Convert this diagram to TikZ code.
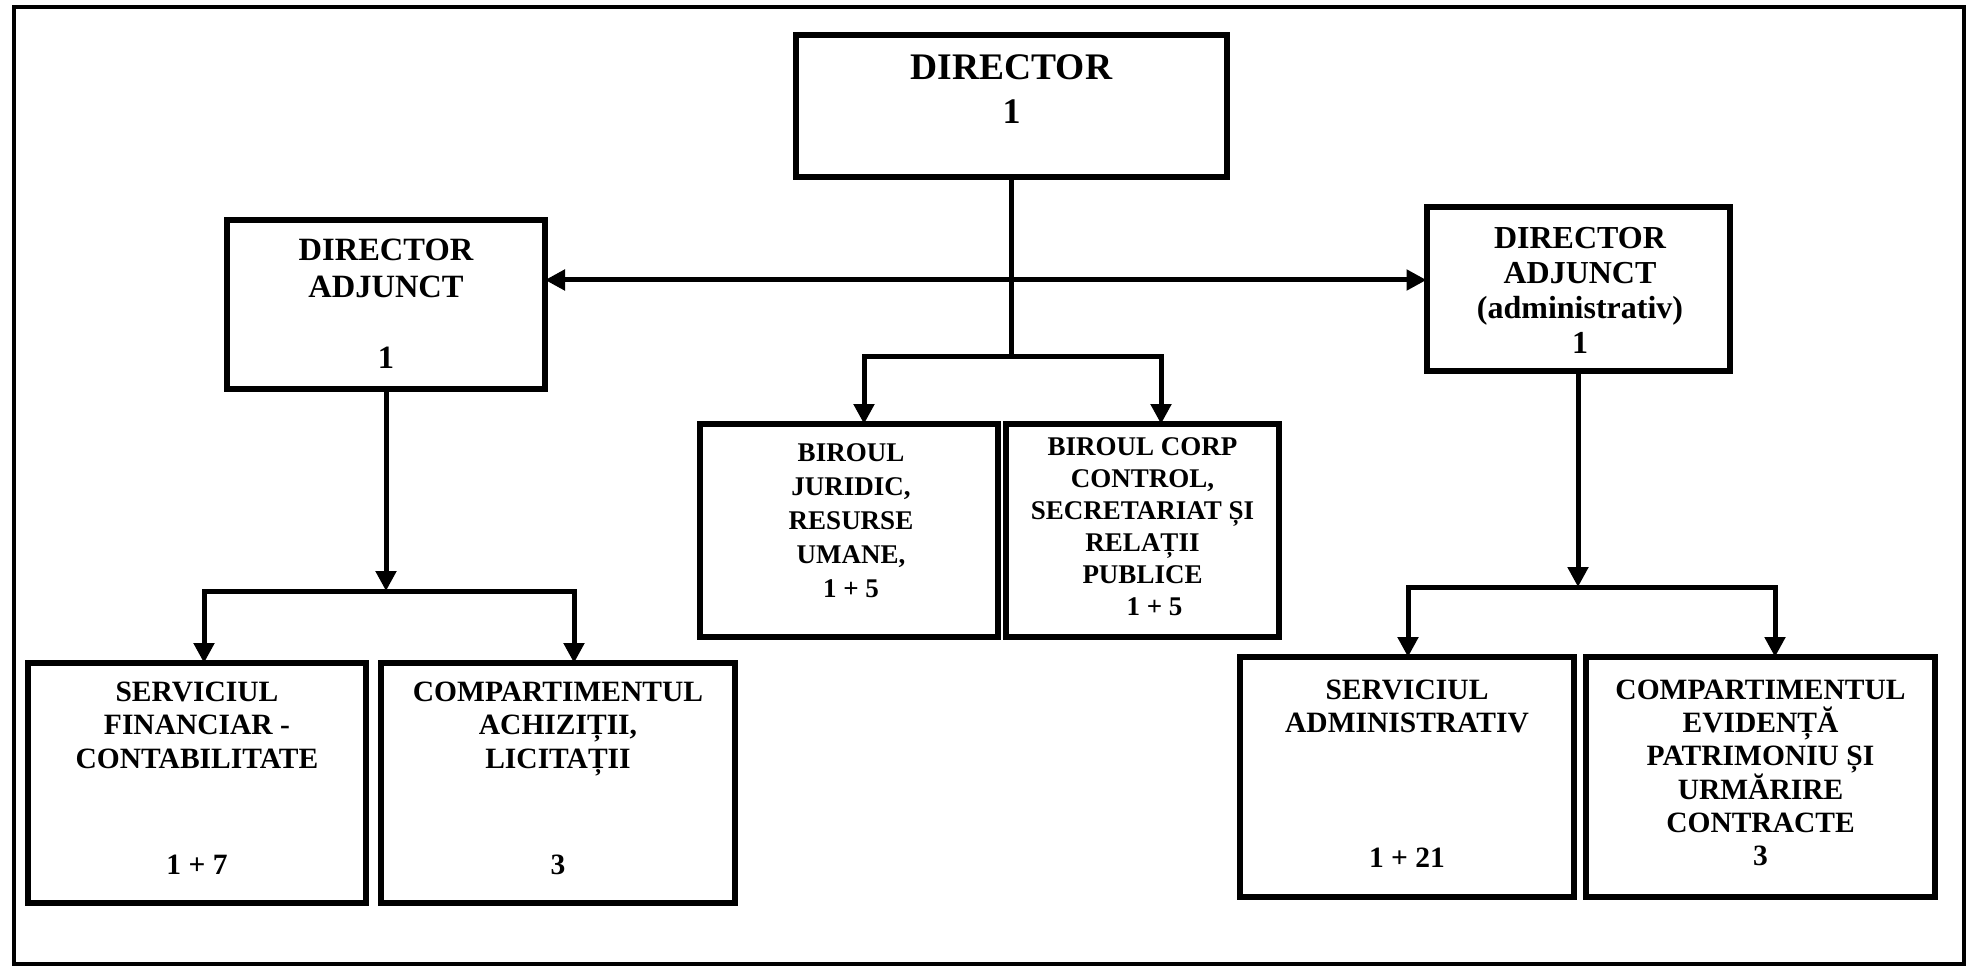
\documentclass[tikz,border=0pt]{standalone}
\usepackage{fontspec}
\setmainfont{Liberation Serif}
\usetikzlibrary{arrows.meta}
\newcommand{\fsz}[2]{\fontsize{#1}{#2}\selectfont\bfseries}
\begin{document}
\begin{tikzpicture}[x=1pt,y=-1pt,
  box/.style={draw, line width=6pt, inner sep=0pt, outer sep=0pt},
  conn/.style={line width=5pt, line join=miter},
  tip/.tip={Triangle[width=20pt,length=20pt]},
  arr/.style={conn, -tip},
  darr/.style={conn, tip-tip},
  txt/.style={inner sep=0pt, outer sep=0pt, align=center}]
\useasboundingbox (0,0) rectangle (1971,968);
\fill[white] (0,0) rectangle (1971,968);
\draw[line width=4pt] (14,7) rectangle (1964,964);

% boxes
\node[box, minimum width=431pt, minimum height=142pt] (dir) at (1011.5,106) {};
\node[box, minimum width=318pt, minimum height=169pt] (daL) at (386,304.5) {};
\node[box, minimum width=303pt, minimum height=164pt] (daR) at (1578,289) {};
\node[box, minimum width=298pt, minimum height=213pt] (bj) at (849,530.5) {};
\node[box, minimum width=273pt, minimum height=213pt] (bc) at (1142.5,530.5) {};
\node[box, minimum width=338pt, minimum height=240pt] (sf) at (197,783) {};
\node[box, minimum width=354pt, minimum height=240pt] (ca) at (558,783) {};
\node[box, minimum width=334pt, minimum height=240pt] (sa) at (1407,777) {};
\node[box, minimum width=349pt, minimum height=240pt] (ce) at (1760.5,777) {};

% texts
\node[txt, anchor=base, font=\fsz{37.5}{40}] (dirT) at (1011.5,80) {DIRECTOR};
\node[txt, anchor=base, font=\fsz{36}{40}] (dirN) at (1011.5,124) {1};

\node[txt, anchor=north, font=\fsz{32.5}{37}] (daLT) at (386,238.7) {DIRECTOR\\ADJUNCT};
\node[txt, anchor=base, font=\fsz{32.5}{37}] (daLN) at (386,368) {1};

\node[txt, anchor=north, font=\fsz{32}{35}] (daRT) at (1580,227) {DIRECTOR\\ADJUNCT\\(administrativ)\\1};

\node[txt, anchor=north, font=\fsz{27}{34}] (bjT) at (851,443.3) {BIROUL\\JURIDIC,\\RESURSE\\UMANE,\\1 + 5};
\node[txt, anchor=north, font=\fsz{27}{32}] (bcT) at (1142.5,437.3) {BIROUL CORP\\CONTROL,\\SECRETARIAT ȘI\\RELAȚII\\PUBLICE\\\hspace*{24pt}1 + 5};

\node[txt, anchor=north, font=\fsz{29.5}{33.5}] (sfT) at (197,681.7) {SERVICIUL\\FINANCIAR -\\CONTABILITATE};
\node[txt, anchor=base, font=\fsz{29.5}{33.5}] (sfN) at (197,874) {1 + 7};
\node[txt, anchor=north, font=\fsz{29.5}{33.5}] (caT) at (558,681.7) {COMPARTIMENTUL\\ACHIZIȚII,\\LICITAȚII};
\node[txt, anchor=base, font=\fsz{29.5}{33.5}] (caN) at (558,874) {3};

\node[txt, anchor=north, font=\fsz{29.5}{33.5}] (saT) at (1407,679.7) {SERVICIUL\\ADMINISTRATIV};
\node[txt, anchor=base, font=\fsz{29.5}{33.5}] (saN) at (1407,867) {1 + 21};
\node[txt, anchor=north, font=\fsz{29.5}{33}] (ceT) at (1760.5,679.7) {COMPARTIMENTUL\\EVIDENȚĂ\\PATRIMONIU ȘI\\URMĂRIRE\\CONTRACTE\\3};

% connector coordinates
\coordinate (ha) at (1011,280);
\coordinate (mL) at (864,357);
\coordinate (mR) at (1161,357);
\coordinate (lL) at (204,591);
\coordinate (lR) at (574,591);
\coordinate (rL) at (1408,587);
\coordinate (rR) at (1775,587);

% connectors
\draw[darr] (daL.east |- ha) -- (daR.west |- ha);
\draw[conn] (dir.south) -- (dir.south |- mL);
\draw[darr] (mL |- bj.north) -- (mL) -- (mR) -- (mR |- bc.north);

\draw[arr] (daL.south) -- (daL.south |- lL);
\draw[darr] (lL |- sf.north) -- (lL) -- (lR) -- (lR |- ca.north);

\draw[arr] (daR.south) -- (daR.south |- rL);
\draw[darr] (rL |- sa.north) -- (rL) -- (rR) -- (rR |- ce.north);
\end{tikzpicture}
\end{document}
